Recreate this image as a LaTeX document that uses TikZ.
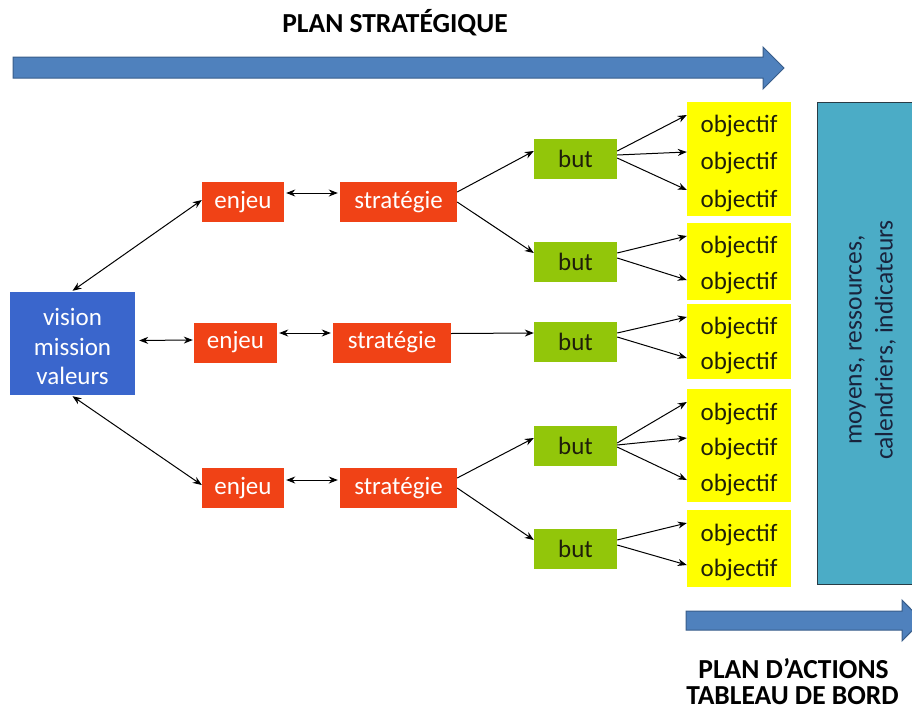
\documentclass[tikz,border=0pt]{standalone}
\usepackage{fontspec}
\setmainfont{Carlito}
\usetikzlibrary{arrows.meta}
\definecolor{arrowblue}{RGB}{79,129,189}
\definecolor{arrowedge}{RGB}{56,93,138}
\definecolor{visionblue}{RGB}{58,102,204}
\definecolor{enjeured}{RGB}{240,66,22}
\definecolor{butgreen}{RGB}{146,198,10}
\definecolor{objyellow}{RGB}{255,255,0}
\definecolor{tealbox}{RGB}{75,172,198}
\definecolor{tealedge}{RGB}{40,60,70}
\definecolor{tealtext}{RGB}{25,35,60}
\definecolor{darktext}{RGB}{30,30,10}
\begin{document}
\begin{tikzpicture}[x=1pt,y=-1pt,
  lbl/.style={inner sep=0pt, align=center, font=\fontsize{25}{29}\selectfont},
  visionbox/.style={lbl, fill=visionblue, text=white, minimum width=125pt, minimum height=103pt},
  redbox/.style={lbl, fill=enjeured, text=white, minimum height=40pt},
  butbox/.style={lbl, fill=butgreen, text=darktext, minimum width=83pt, minimum height=40pt},
  objbox/.style={fill=objyellow, minimum width=104pt, inner sep=0pt},
  objtext/.style={lbl, anchor=base, text=darktext, minimum width=104pt, text height=16pt, text depth=5pt},
  link/.style={line width=1pt, -{Stealth[length=9pt,width=7pt]}},
  dlink/.style={line width=1pt, {Stealth[length=9pt,width=7pt]}-{Stealth[length=9pt,width=7pt]}},
  bigarrow/.style={fill=arrowblue, draw=arrowedge, line width=1pt},
  heading/.style={font=\bfseries\fontsize{27.5}{32}\selectfont, anchor=base, text=black, inner sep=0pt}
]
\useasboundingbox (0,0) rectangle (912,712);
\clip (0,0) rectangle (912,712);

% titles
\node[heading] (title) at (395,32) {PLAN STRATÉGIQUE};
\node[heading] (pa) at (793.5,678) {PLAN D’ACTIONS};
\node[heading] (tb) at (792.5,704) {TABLEAU DE BORD};

% big arrows
\path[bigarrow] (13,57) -- (763,57) -- (763,47) -- (784,68) -- (763,89) -- (763,78) -- (13,78) -- cycle;
\path[bigarrow] (686,611) -- (902,611) -- (902,600) -- (922,620.5) -- (902,641) -- (902,630) -- (686,630) -- cycle;

% resources box
\node[fill=tealbox, draw=tealedge, line width=1pt, minimum width=120pt, minimum height=482pt, anchor=north west, inner sep=0pt] (res) at (817,102) {};
\node[rotate=90, align=center, inner sep=0pt, text=tealtext, font=\fontsize{25.5}{31}\selectfont] (restext) at (872.5,340) {moyens, ressources,\\calendriers, indicateurs};

% vision
\node[visionbox, font=\fontsize{25}{29.5}\selectfont] (vision) at (72.5,343.5) {\\[-6pt]vision\\mission\\valeurs};

% enjeux / strategies
\node[redbox, minimum width=82pt] (enjeu1) at (243,202) {enjeu};
\node[redbox, minimum width=117pt] (strat1) at (398.5,202) {stratégie};
\node[redbox, minimum width=83pt] (enjeu2) at (235.5,342.5) {enjeu};
\node[redbox, minimum width=118pt] (strat2) at (392,342.5) {stratégie};
\node[redbox, minimum width=82pt] (enjeu3) at (243,488) {enjeu};
\node[redbox, minimum width=117pt] (strat3) at (398.5,488) {stratégie};

% buts
\node[butbox] (but1) at (575.5,159) {but};
\node[butbox] (but2) at (575.5,262) {but};
\node[butbox] (but3) at (575.5,342) {but};
\node[butbox] (but4) at (575.5,445.5) {but};
\node[butbox] (but5) at (575.5,548.5) {but};

% objective boxes
\node[objbox, minimum height=114pt] (y1) at (739,159) {};
\node[objbox, minimum height=77pt] (y2) at (739,261.5) {};
\node[objbox, minimum height=75pt] (y3) at (739,341.5) {};
\node[objbox, minimum height=113pt] (y4) at (739,445.5) {};
\node[objbox, minimum height=77pt] (y5) at (739,548.5) {};

\node[objtext] (o11) at (739,132) {objectif};
\node[objtext] (o12) at (739,169) {objectif};
\node[objtext] (o13) at (739,207) {objectif};
\node[objtext] (o21) at (739,253) {objectif};
\node[objtext] (o22) at (739,289) {objectif};
\node[objtext] (o31) at (739,334) {objectif};
\node[objtext] (o32) at (739,369) {objectif};
\node[objtext] (o41) at (739,420) {objectif};
\node[objtext] (o42) at (739,455) {objectif};
\node[objtext] (o43) at (739,491) {objectif};
\node[objtext] (o51) at (739,541) {objectif};
\node[objtext] (o52) at (739,576) {objectif};

% vision <-> enjeux
\draw[dlink] ([yshift=1pt]vision.north) -- ([yshift=2pt]enjeu1.west);
\draw[dlink, shorten <=4pt, shorten >=1pt] ([yshift=3pt]vision.east) -- ([yshift=2.5pt]enjeu2.west);
\draw[dlink] ([yshift=-1pt]vision.south) -- ([yshift=3pt]enjeu3.west);

% enjeu <-> strategie
\draw[dlink, shorten <=2pt, shorten >=2pt] ([yshift=9pt]enjeu1.east) -- ([yshift=9pt]strat1.west);
\draw[dlink, shorten <=2pt, shorten >=2pt] ([yshift=9.5pt]enjeu2.east) -- ([yshift=9.5pt]strat2.west);
\draw[dlink, shorten <=2pt, shorten >=2pt] ([yshift=8pt]enjeu3.east) -- ([yshift=8pt]strat3.west);

% strategie -> but
\draw[link] ([yshift=10pt]strat1.east) -- ([yshift=8pt]but1.west);
\draw[link] (strat1.east) -- ([yshift=9pt]but2.west);
\draw[link] ([yshift=9pt]strat2.east) -- ([yshift=9pt]but3.west);
\draw[link] ([yshift=10pt]strat3.east) -- ([yshift=7.5pt]but4.west);
\draw[link] (strat3.east) -- ([yshift=8.5pt]but5.west);

% but -> objectif
\draw[link] ([yshift=8pt]but1.east) -- ([yshift=11.5pt]o11.west);
\draw[link] ([yshift=4pt]but1.east) -- ([yshift=11.5pt]o12.west);
\draw[link] ([yshift=1pt]but1.east) -- ([yshift=11.5pt]o13.west);
\draw[link] ([yshift=9pt]but2.east) -- ([yshift=11.5pt]o21.west);
\draw[link] ([yshift=4pt]but2.east) -- ([yshift=3.5pt]o22.west);
\draw[link] ([yshift=9pt]but3.east) -- ([yshift=11.5pt]o31.west);
\draw[link] ([yshift=5pt]but3.east) -- ([yshift=5.5pt]o32.west);
\draw[link] ([yshift=2.5pt]but4.east) -- ([yshift=12.5pt]o41.west);
\draw[link] ([yshift=0.5pt]but4.east) -- ([yshift=11.5pt]o42.west);
\draw[link] ([yshift=-1.5pt]but4.east) -- ([yshift=5.5pt]o43.west);
\draw[link] ([yshift=8.5pt]but5.east) -- ([yshift=12.5pt]o51.west);
\draw[link] ([yshift=3.5pt]but5.east) -- ([yshift=5.5pt]o52.west);
\end{tikzpicture}
\end{document}
